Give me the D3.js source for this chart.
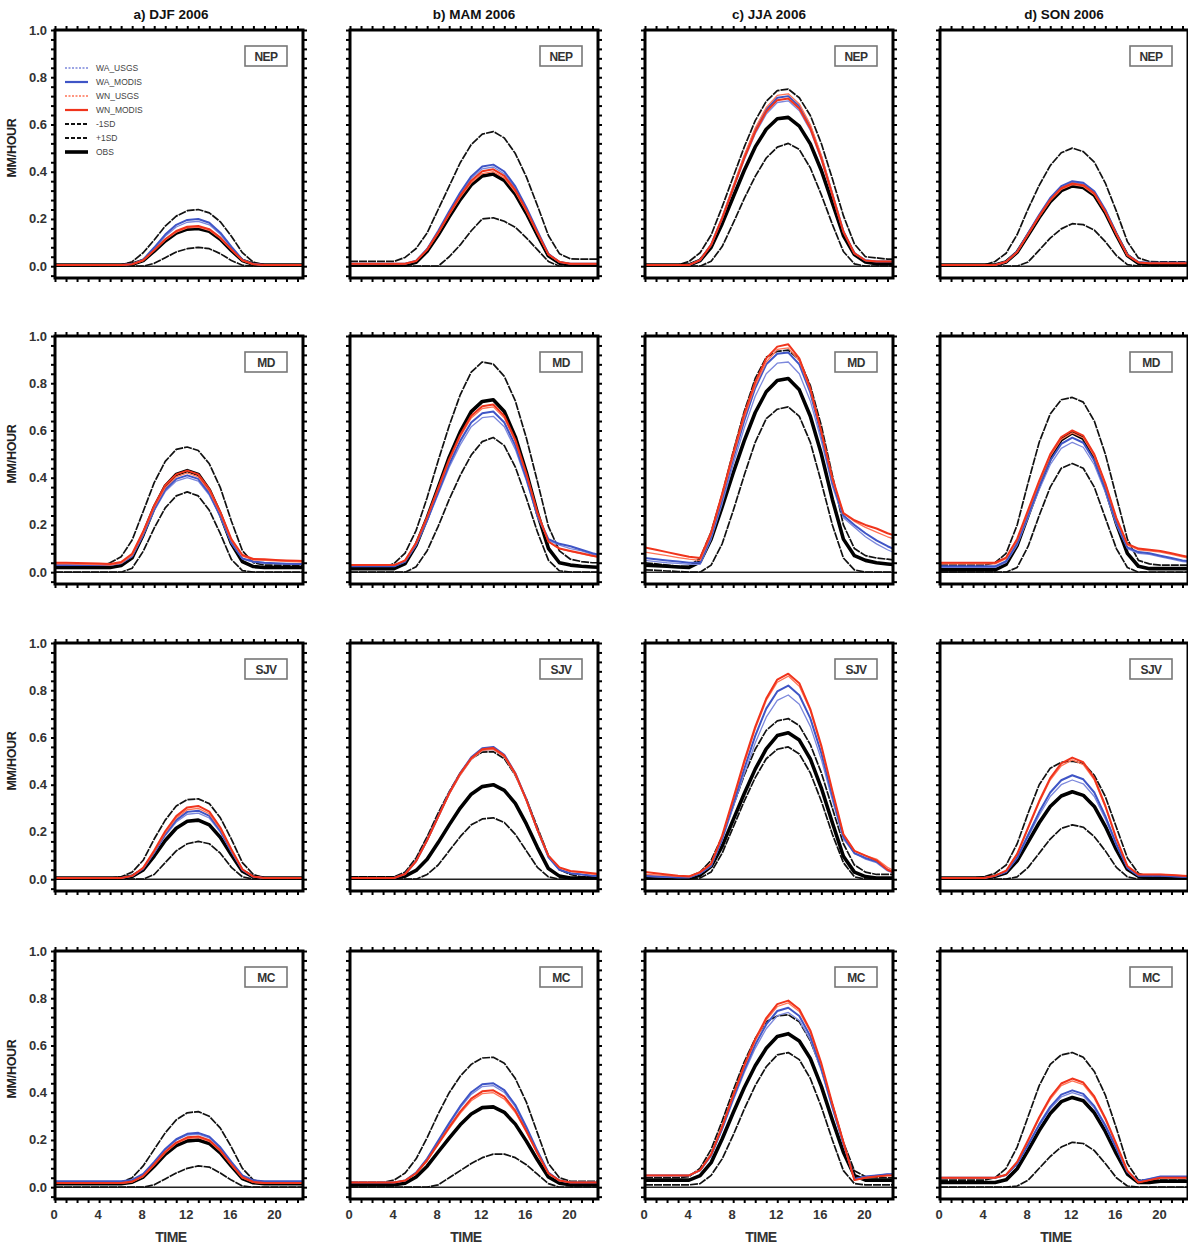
<!DOCTYPE html>
<html><head><meta charset="utf-8">
<script src="https://cdn.jsdelivr.net/npm/d3@7"></script>
<style>body{margin:0;background:#fff;} svg{display:block;font-family:"Liberation Sans",Arial,sans-serif;}</style>
</head><body><svg id="c" width="1188" height="1248"></svg>
<script>
const hours = [0,1,2,3,4,5,6,7,8,9,10,11,12,13,14,15,16,17,18,19,20,21,22,23];
const seasonTitles = ["a) DJF 2006","b) MAM 2006","c) JJA 2006","d) SON 2006"];
const seasonKeys = ["DJF","MAM","JJA","SON"];
const regions = ["NEP","MD","SJV","MC"];
const seriesKeys = ["WA_USGS","WA_MODIS","WN_USGS","WN_MODIS","M1SD","P1SD","OBS"];
const legendLabels = ["WA_USGS","WA_MODIS","WN_USGS","WN_MODIS","-1SD","+1SD","OBS"];
const yTickLabels = [0.0,0.2,0.4,0.6,0.8,1.0];
const xTickLabels = [0,4,8,12,16,20];

// each panel: [WA_USGS, WA_MODIS, WN_USGS, WN_MODIS, -1SD, +1SD, OBS]
const NEP_DJF = [
 [.005,.005,.005,.005,.005,.005,.005,.009,.027,.075,.127,.166,.186,.19,.175,.135,.079,.027,.009,.005,.005,.005,.005,.005],
 [.005,.005,.005,.005,.005,.005,.005,.009,.028,.079,.134,.175,.196,.2,.184,.142,.083,.028,.009,.005,.005,.005,.005,.005],
 [.005,.005,.005,.005,.005,.005,.005,.008,.024,.066,.111,.144,.162,.165,.152,.117,.069,.024,.008,.005,.005,.005,.005,.005],
 [.005,.005,.005,.005,.005,.005,.005,.008,.025,.068,.114,.149,.167,.17,.157,.121,.071,.025,.008,.005,.005,.005,.005,.005],
 [0,0,0,0,0,0,0,0,0,.012,.036,.06,.074,.08,.074,.053,.024,.004,0,0,0,0,0,0],
 [.005,.005,.005,.005,.005,.005,.005,.019,.057,.111,.17,.212,.235,.24,.226,.188,.127,.057,.017,.005,.005,.005,.005,.005],
 [.005,.005,.005,.005,.005,.005,.005,.008,.024,.064,.107,.14,.157,.16,.148,.114,.067,.024,.008,.005,.005,.005,.005,.005]
];
const NEP_MAM = [
 [.01,.01,.01,.01,.01,.01,.022,.072,.145,.227,.305,.371,.412,.42,.391,.33,.244,.145,.051,.018,.01,.01,.01,.01],
 [.01,.01,.01,.01,.01,.01,.023,.073,.149,.233,.312,.38,.422,.43,.401,.338,.249,.149,.052,.018,.01,.01,.01,.01],
 [.01,.01,.01,.01,.01,.01,.022,.069,.139,.217,.291,.353,.392,.40,.373,.314,.232,.139,.049,.018,.01,.01,.01,.01],
 [.01,.01,.01,.01,.01,.01,.022,.07,.142,.222,.298,.362,.402,.41,.382,.322,.238,.142,.05,.018,.01,.01,.01,.01],
 [0,0,0,0,0,0,0,0,0,.04,.09,.15,.20,.205,.19,.165,.12,.07,.02,0,0,0,0,0],
 [.02,.02,.02,.02,.02,.037,.075,.141,.24,.339,.438,.515,.559,.57,.543,.477,.378,.257,.13,.053,.031,.03,.03,.03],
 [.005,.005,.005,.005,.005,.005,.017,.063,.132,.209,.282,.344,.382,.39,.363,.305,.224,.132,.044,.013,.005,.005,.005,.005]
];
const NEP_JJA = [
 [.005,.005,.005,.005,.005,.026,.088,.2,.325,.45,.561,.644,.693,.70,.658,.575,.45,.297,.144,.054,.024,.02,.02,.02],
 [.005,.005,.005,.005,.005,.026,.091,.205,.334,.463,.577,.663,.713,.72,.677,.591,.463,.305,.148,.055,.025,.02,.02,.02],
 [.005,.005,.005,.005,.005,.027,.092,.208,.339,.469,.585,.672,.723,.73,.687,.60,.469,.31,.15,.056,.025,.02,.02,.02],
 [.005,.005,.005,.005,.005,.026,.09,.202,.329,.456,.569,.654,.703,.71,.668,.583,.456,.301,.146,.054,.024,.02,.02,.02],
 [0,0,0,0,0,0,.021,.083,.182,.286,.38,.458,.504,.52,.494,.416,.302,.177,.062,.01,0,0,0,0],
 [.005,.005,.005,.005,.02,.057,.132,.251,.378,.504,.616,.698,.743,.75,.713,.638,.519,.37,.214,.094,.04,.035,.03,.03],
 [.005,.005,.005,.005,.005,.024,.08,.18,.293,.405,.505,.58,.624,.63,.593,.518,.405,.268,.13,.049,.018,.01,.01,.01]
];
const NEP_SON = [
 [.005,.005,.005,.005,.005,.005,.019,.061,.138,.215,.285,.334,.355,.348,.313,.236,.138,.047,.017,.015,.015,.015,.015,.015],
 [.005,.005,.005,.005,.005,.005,.019,.062,.14,.218,.289,.339,.36,.353,.317,.239,.14,.048,.017,.015,.015,.015,.015,.015],
 [.005,.005,.005,.005,.005,.005,.018,.06,.134,.209,.277,.325,.345,.338,.304,.229,.134,.046,.016,.012,.012,.012,.012,.012],
 [.005,.005,.005,.005,.005,.005,.019,.06,.136,.212,.281,.33,.35,.343,.309,.232,.136,.046,.016,.012,.012,.012,.012,.012],
 [0,0,0,0,0,0,0,0,.018,.068,.119,.158,.18,.176,.153,.104,.045,.007,0,0,0,0,0,0],
 [.005,.005,.005,.005,.005,.02,.055,.134,.243,.342,.426,.48,.50,.485,.441,.352,.233,.104,.035,.02,.018,.018,.018,.018],
 [.005,.005,.005,.005,.005,.005,.018,.059,.132,.206,.273,.32,.34,.333,.30,.226,.132,.045,.012,.008,.008,.008,.008,.008]
];
const MD_DJF = [
 [.03,.03,.03,.03,.03,.03,.037,.067,.156,.26,.341,.386,.40,.386,.326,.233,.122,.056,.043,.038,.036,.035,.034,.033],
 [.03,.03,.03,.03,.03,.03,.038,.068,.159,.266,.349,.395,.41,.395,.334,.239,.125,.058,.045,.04,.038,.036,.035,.035],
 [.035,.035,.034,.033,.032,.03,.038,.072,.165,.274,.358,.404,.42,.404,.343,.248,.135,.068,.052,.05,.048,.046,.044,.042],
 [.04,.04,.039,.038,.037,.035,.043,.078,.172,.282,.368,.414,.43,.414,.352,.255,.14,.073,.056,.055,.052,.05,.048,.046],
 [0,0,0,0,0,0,0,.017,.088,.187,.272,.323,.34,.323,.262,.163,.054,.007,0,0,0,0,0,0],
 [.025,.025,.025,.025,.025,.04,.065,.136,.257,.379,.469,.52,.53,.515,.459,.358,.217,.091,.04,.03,.03,.03,.03,.03],
 [.02,.02,.02,.02,.02,.02,.028,.061,.159,.274,.364,.414,.43,.414,.348,.245,.122,.045,.024,.02,.02,.02,.02,.02]
];
const MD_MAM = [
 [.025,.025,.025,.025,.025,.044,.114,.216,.33,.444,.539,.616,.654,.66,.616,.52,.387,.235,.135,.115,.10,.09,.075,.065],
 [.025,.025,.025,.025,.025,.045,.117,.222,.339,.457,.556,.634,.673,.68,.634,.536,.398,.241,.14,.12,.11,.095,.08,.07],
 [.03,.03,.03,.03,.03,.049,.123,.231,.351,.472,.573,.653,.693,.70,.653,.553,.413,.251,.128,.10,.088,.078,.068,.06],
 [.03,.03,.03,.03,.03,.05,.125,.234,.356,.479,.581,.662,.703,.71,.662,.56,.418,.254,.13,.10,.09,.08,.07,.06],
 [0,0,0,0,0,0,.023,.091,.194,.308,.41,.496,.553,.57,.536,.445,.314,.171,.051,.006,0,0,0,0],
 [.02,.02,.02,.02,.037,.081,.177,.316,.472,.62,.751,.847,.89,.881,.829,.725,.568,.385,.194,.09,.055,.045,.04,.04],
 [.015,.015,.015,.015,.015,.036,.115,.23,.358,.487,.594,.68,.723,.73,.68,.573,.423,.251,.101,.04,.03,.025,.022,.02]
];
const MD_JJA = [
 [.05,.045,.04,.037,.033,.033,.14,.29,.455,.61,.745,.84,.885,.89,.84,.725,.555,.365,.23,.19,.15,.12,.095,.075],
 [.06,.055,.05,.045,.04,.04,.15,.31,.48,.64,.78,.88,.925,.93,.88,.76,.58,.38,.24,.20,.165,.135,.11,.09],
 [.085,.078,.07,.062,.055,.05,.16,.32,.49,.655,.79,.89,.943,.95,.895,.77,.59,.39,.25,.215,.19,.17,.15,.135],
 [.105,.095,.085,.075,.065,.06,.168,.332,.505,.669,.805,.905,.955,.965,.905,.778,.596,.40,.25,.22,.20,.185,.165,.15],
 [.01,.008,.005,.003,0,0,.03,.12,.26,.41,.55,.65,.69,.70,.66,.55,.38,.20,.06,.01,0,0,0,0],
 [.04,.035,.03,.025,.025,.06,.17,.33,.51,.68,.82,.91,.935,.94,.90,.79,.62,.41,.20,.10,.07,.06,.055,.05],
 [.03,.028,.025,.022,.02,.044,.14,.276,.42,.556,.676,.764,.812,.82,.772,.66,.50,.308,.14,.07,.05,.04,.035,.03]
];
const MD_SON = [
 [.02,.02,.02,.02,.02,.02,.041,.115,.232,.349,.455,.524,.55,.529,.455,.338,.20,.10,.08,.075,.065,.055,.045,.04],
 [.025,.025,.025,.025,.025,.025,.047,.123,.243,.363,.472,.543,.57,.548,.472,.352,.21,.105,.085,.08,.07,.06,.05,.045],
 [.035,.035,.035,.035,.035,.035,.057,.135,.257,.379,.49,.562,.59,.568,.49,.368,.225,.115,.095,.09,.085,.075,.065,.055],
 [.04,.04,.04,.04,.04,.04,.062,.141,.264,.387,.499,.572,.60,.578,.499,.376,.23,.12,.10,.095,.09,.08,.07,.06],
 [0,0,0,0,0,0,0,.02,.11,.24,.36,.44,.46,.44,.36,.23,.10,.02,0,0,0,0,0,0],
 [.03,.03,.03,.03,.03,.04,.08,.20,.38,.55,.67,.73,.74,.72,.64,.50,.32,.14,.05,.035,.03,.03,.03,.03],
 [.01,.01,.01,.01,.01,.01,.033,.114,.242,.368,.482,.561,.59,.567,.485,.358,.207,.08,.025,.015,.015,.015,.015,.015]
];
const SJV_DJF = [
 [.005,.005,.005,.005,.005,.005,.005,.013,.044,.11,.184,.242,.275,.28,.259,.198,.115,.038,.01,.005,.005,.005,.005,.005],
 [.005,.005,.005,.005,.005,.005,.005,.014,.045,.114,.19,.25,.285,.29,.268,.205,.119,.04,.011,.005,.005,.005,.005,.005],
 [.005,.005,.005,.005,.005,.005,.005,.014,.047,.117,.196,.259,.294,.30,.277,.212,.123,.041,.011,.005,.005,.005,.005,.005],
 [.005,.005,.005,.005,.005,.005,.005,.014,.048,.121,.203,.267,.304,.31,.286,.219,.127,.042,.011,.005,.005,.005,.005,.005],
 [0,0,0,0,0,0,0,0,0,.02,.07,.12,.15,.16,.15,.11,.05,.01,0,0,0,0,0,0],
 [.005,.005,.005,.005,.005,.005,.01,.03,.08,.17,.25,.31,.337,.34,.32,.26,.17,.07,.02,.005,.005,.005,.005,.005],
 [.005,.005,.005,.005,.005,.005,.005,.012,.039,.098,.164,.216,.245,.25,.23,.177,.103,.034,.01,.005,.005,.005,.005,.005]
];
const SJV_MAM = [
 [.005,.005,.005,.005,.005,.021,.076,.163,.261,.36,.441,.507,.545,.55,.518,.441,.332,.206,.093,.04,.025,.02,.015,.012],
 [.005,.005,.005,.005,.005,.022,.077,.166,.266,.366,.449,.516,.554,.56,.527,.449,.338,.21,.094,.04,.025,.02,.015,.012],
 [.005,.005,.005,.005,.005,.021,.076,.163,.261,.36,.441,.507,.545,.55,.518,.441,.332,.206,.098,.048,.033,.028,.022,.018],
 [.005,.005,.005,.005,.005,.022,.077,.166,.265,.364,.447,.512,.55,.555,.523,.447,.336,.21,.10,.05,.035,.03,.025,.02],
 [0,0,0,0,0,0,0,.02,.06,.12,.18,.23,.255,.26,.24,.19,.12,.05,.01,0,0,0,0,0],
 [.01,.01,.01,.01,.01,.03,.09,.18,.28,.37,.45,.51,.538,.54,.51,.44,.34,.22,.10,.04,.02,.01,.01,.01],
 [.005,.005,.005,.005,.005,.013,.037,.084,.155,.23,.301,.36,.392,.40,.376,.321,.234,.135,.045,.013,.005,.005,.005,.005]
];
const SJV_JJA = [
 [.012,.01,.008,.007,.007,.023,.055,.164,.304,.445,.577,.686,.757,.78,.741,.647,.507,.335,.17,.11,.085,.07,.035,.018],
 [.015,.012,.01,.008,.008,.025,.057,.172,.32,.467,.607,.722,.795,.82,.779,.681,.533,.353,.18,.11,.09,.075,.04,.02],
 [.02,.018,.015,.012,.01,.028,.063,.18,.335,.49,.636,.757,.834,.86,.817,.714,.559,.37,.19,.12,.10,.085,.05,.025],
 [.03,.025,.02,.015,.012,.03,.065,.185,.34,.50,.645,.765,.845,.87,.83,.72,.565,.375,.19,.12,.10,.08,.04,.02],
 [0,0,0,0,0,.005,.03,.11,.22,.33,.43,.51,.55,.56,.53,.45,.33,.19,.07,.01,0,0,0,0],
 [.005,.005,.005,.005,.01,.03,.08,.18,.31,.44,.55,.63,.67,.68,.65,.57,.45,.30,.15,.06,.03,.02,.02,.02],
 [.005,.005,.005,.005,.005,.017,.054,.14,.251,.362,.466,.552,.608,.62,.589,.509,.386,.239,.097,.03,.011,.005,.005,.005]
];
const SJV_SON = [
 [.005,.005,.005,.005,.005,.013,.03,.088,.179,.271,.35,.40,.42,.404,.35,.255,.143,.047,.015,.015,.015,.012,.01,.01],
 [.005,.005,.005,.005,.005,.014,.031,.092,.188,.284,.367,.419,.44,.423,.367,.267,.149,.049,.015,.015,.015,.012,.01,.01],
 [.005,.005,.005,.005,.005,.015,.035,.105,.215,.325,.42,.48,.505,.485,.42,.305,.17,.055,.02,.02,.02,.018,.015,.012],
 [.005,.005,.005,.005,.005,.015,.036,.107,.219,.331,.428,.49,.515,.495,.428,.311,.173,.056,.02,.02,.02,.018,.015,.012],
 [0,0,0,0,0,0,0,.01,.05,.11,.17,.215,.23,.22,.18,.12,.05,.01,0,0,0,0,0,0],
 [.005,.005,.005,.005,.01,.025,.06,.15,.28,.40,.47,.495,.50,.49,.44,.35,.22,.09,.025,.01,.01,.01,.01,.01],
 [.005,.005,.005,.005,.005,.012,.027,.078,.158,.239,.308,.352,.37,.355,.308,.224,.125,.042,.012,.005,.005,.005,.005,.005]
];
const MC_DJF = [
 [.022,.022,.022,.022,.022,.022,.022,.028,.052,.103,.158,.199,.221,.225,.209,.164,.103,.046,.026,.022,.022,.022,.022,.022],
 [.025,.025,.025,.025,.025,.025,.025,.031,.056,.107,.162,.203,.226,.23,.214,.169,.107,.05,.029,.025,.025,.025,.025,.025],
 [.016,.016,.016,.016,.016,.016,.016,.022,.045,.094,.146,.185,.206,.21,.194,.152,.094,.039,.02,.016,.016,.016,.016,.016],
 [.018,.018,.018,.018,.018,.018,.018,.024,.048,.097,.15,.189,.211,.215,.199,.156,.097,.042,.022,.018,.018,.018,.018,.018],
 [0,0,0,0,0,0,0,0,0,.01,.035,.06,.08,.09,.085,.06,.03,.005,0,0,0,0,0,0],
 [.02,.02,.02,.02,.02,.02,.02,.04,.09,.16,.23,.285,.315,.32,.30,.25,.17,.08,.03,.02,.02,.02,.02,.02],
 [.015,.015,.015,.015,.015,.015,.015,.021,.043,.089,.139,.176,.196,.20,.185,.145,.089,.037,.019,.015,.015,.015,.015,.015]
];
const MC_MAM = [
 [.02,.02,.02,.02,.02,.028,.061,.118,.192,.266,.336,.393,.426,.43,.401,.34,.25,.151,.061,.028,.02,.02,.02,.02],
 [.02,.02,.02,.02,.02,.028,.062,.121,.196,.272,.343,.402,.436,.44,.411,.348,.255,.154,.062,.028,.02,.02,.02,.02],
 [.02,.02,.02,.02,.02,.028,.058,.111,.18,.248,.313,.366,.396,.40,.373,.316,.233,.142,.058,.028,.02,.02,.02,.02],
 [.02,.02,.02,.02,.02,.028,.059,.114,.184,.254,.32,.375,.406,.41,.383,.324,.238,.145,.059,.028,.02,.02,.02,.02],
 [0,0,0,0,0,0,0,0,.01,.04,.07,.10,.125,.14,.14,.125,.095,.055,.015,0,0,0,0,0],
 [.02,.02,.02,.02,.03,.06,.12,.21,.31,.40,.47,.52,.547,.55,.525,.46,.36,.23,.10,.04,.025,.025,.025,.025],
 [.01,.01,.01,.01,.01,.017,.043,.089,.149,.208,.264,.31,.337,.34,.317,.267,.195,.116,.043,.017,.01,.01,.01,.01]
];
const MC_JJA = [
 [.05,.05,.05,.05,.05,.071,.133,.243,.367,.485,.588,.671,.726,.74,.706,.623,.492,.333,.181,.035,.045,.05,.055,.055],
 [.05,.05,.05,.05,.05,.071,.135,.249,.377,.497,.604,.689,.746,.76,.725,.639,.504,.341,.185,.035,.045,.05,.055,.055],
 [.05,.05,.05,.05,.05,.072,.138,.254,.386,.51,.619,.707,.765,.78,.744,.656,.517,.349,.189,.03,.04,.045,.05,.05],
 [.05,.05,.05,.05,.05,.072,.139,.257,.39,.516,.627,.716,.775,.79,.753,.664,.524,.353,.191,.03,.04,.045,.05,.05],
 [.01,.01,.01,.01,.01,.015,.05,.12,.22,.33,.43,.51,.56,.57,.54,.46,.34,.20,.07,.015,.01,.01,.01,.01],
 [.04,.04,.04,.04,.045,.08,.16,.28,.41,.53,.63,.70,.725,.73,.70,.62,.50,.35,.19,.07,.045,.04,.04,.04],
 [.03,.03,.03,.03,.03,.049,.104,.204,.315,.421,.514,.588,.638,.65,.619,.545,.427,.284,.148,.049,.03,.03,.03,.03]
];
const MC_SON = [
 [.04,.04,.04,.04,.04,.04,.051,.098,.177,.26,.332,.382,.40,.386,.335,.256,.162,.064,.025,.035,.045,.045,.045,.045],
 [.04,.04,.04,.04,.04,.04,.051,.099,.181,.266,.34,.392,.41,.395,.343,.262,.166,.065,.025,.035,.045,.045,.045,.045],
 [.04,.04,.04,.04,.04,.04,.052,.106,.196,.29,.372,.43,.45,.434,.376,.286,.179,.068,.02,.03,.04,.04,.04,.04],
 [.04,.04,.04,.04,.04,.04,.053,.107,.20,.296,.38,.439,.46,.443,.384,.292,.183,.07,.02,.03,.04,.04,.04,.04],
 [0,0,0,0,0,0,0,.005,.03,.08,.13,.17,.19,.185,.155,.10,.04,.005,0,0,0,0,0,0],
 [.03,.03,.03,.03,.03,.04,.08,.17,.30,.43,.52,.56,.57,.55,.49,.39,.25,.10,.03,.03,.03,.03,.03,.03],
 [.02,.02,.02,.02,.02,.02,.031,.078,.157,.24,.312,.362,.38,.366,.315,.236,.142,.056,.02,.02,.025,.025,.025,.025]
];

const panels = {
  NEP:{DJF:NEP_DJF, MAM:NEP_MAM, JJA:NEP_JJA, SON:NEP_SON},
  MD:{DJF:MD_DJF, MAM:MD_MAM, JJA:MD_JJA, SON:MD_SON},
  SJV:{DJF:SJV_DJF, MAM:SJV_MAM, JJA:SJV_JJA, SON:SJV_SON},
  MC:{DJF:MC_DJF, MAM:MC_MAM, JJA:MC_JJA, SON:MC_SON}
};

const style = {
  WA_USGS:{color:"#7c88dc", width:1.3, dash:null},
  WA_MODIS:{color:"#3f55c6", width:2, dash:null},
  WN_USGS:{color:"#ff7355", width:1.3, dash:null},
  WN_MODIS:{color:"#f0341c", width:2, dash:null},
  M1SD:{color:"#111", width:1.7, dash:"8,1"},
  P1SD:{color:"#111", width:1.7, dash:"8,1"},
  OBS:{color:"#000", width:3.6, dash:null}
};
const drawOrder = ["P1SD","M1SD","OBS","WA_USGS","WA_MODIS","WN_USGS","WN_MODIS"];

const colX = [55,350,645,940], rowY = [30,336,643,951];
const W = 248, H = 248;
const x = d3.scaleLinear().domain([0,22.5]).range([0,W]);
const y = d3.scaleLinear().domain([-0.05,1.0]).range([H,0]);
const minorY = d3.range(-0.04, 1.0001, 0.04);
const minorX = hours.filter(h => h <= 22);

const svg = d3.select("#c");
const defs = svg.append("defs");
defs.append("clipPath").attr("id","clip").append("rect").attr("x",0).attr("y",0).attr("width",W).attr("height",H);

const line = d3.line().x((d,i)=>x(hours[i])).y(d=>y(d));

regions.forEach((reg, r) => {
  seasonKeys.forEach((sk, c) => {
    const g = svg.append("g").attr("transform",`translate(${colX[c]},${rowY[r]})`);
    const data = panels[reg][sk];
    const plot = g.append("g").attr("clip-path","url(#clip)");
    plot.append("line").attr("x1",0).attr("x2",W).attr("y1",y(0)).attr("y2",y(0))
      .attr("stroke","#222").attr("stroke-width",1.6);
    drawOrder.forEach(k => {
      const s = style[k];
      plot.append("path").datum(data[seriesKeys.indexOf(k)])
        .attr("d", line).attr("fill","none")
        .attr("stroke", s.color).attr("stroke-width", s.width)
        .attr("stroke-linejoin","round")
        .attr("stroke-dasharray", s.dash);
    });
    const tk = (sel) => sel.call(a => a.select(".domain").remove())
      .call(a => a.selectAll("line").attr("stroke","#000").attr("stroke-width",2));
    g.append("g").call(d3.axisTop(x).tickValues(minorX).tickSize(4).tickFormat("")).call(tk);
    g.append("g").attr("transform",`translate(0,${H})`).call(d3.axisBottom(x).tickValues(minorX).tickSize(4).tickFormat("")).call(tk);
    g.append("g").call(d3.axisLeft(y).tickValues(minorY).tickSize(4).tickFormat("")).call(tk);
    g.append("g").attr("transform",`translate(${W},0)`).call(d3.axisRight(y).tickValues(minorY).tickSize(4).tickFormat("")).call(tk);
    g.append("rect").attr("x",0).attr("y",0).attr("width",W).attr("height",H)
      .attr("fill","none").attr("stroke","#000").attr("stroke-width",3);
    const bx = W - 16 - 42, by = 16;
    g.append("rect").attr("x",bx).attr("y",by).attr("width",42).attr("height",20)
      .attr("fill","#fff").attr("stroke","#777").attr("stroke-width",1.6);
    g.append("text").attr("x",bx+21).attr("y",by+14.5).attr("text-anchor","middle")
      .attr("font-size",12).attr("font-weight","bold").attr("fill","#333")
      .attr("letter-spacing","-0.5").text(reg);

    if (c === 0) {
      g.selectAll("text.yl").data(yTickLabels).enter().append("text")
        .attr("x",-8).attr("y",d=>y(d)+4.5).attr("text-anchor","end")
        .attr("font-size",13).attr("font-weight","bold").attr("fill","#333")
        .text(d=>d3.format(".1f")(d));
      g.append("text").attr("transform",`translate(-39,${H/2-6}) rotate(-90)`)
        .attr("text-anchor","middle").attr("font-size",12.5).attr("font-weight","bold")
        .attr("fill","#222").attr("letter-spacing","-0.3").text("MM/HOUR");
    }
    if (r === 0) {
      g.append("text").attr("x",W/2 - (c===0?8:0)).attr("y",-11).attr("text-anchor","middle")
        .attr("font-size",13.5).attr("font-weight","bold").attr("fill","#111")
        .text(seasonTitles[c]);
    }
    if (r === 3) {
      g.selectAll("text.xl").data(xTickLabels).enter().append("text")
        .attr("x",d=>x(d)-1).attr("y",H+20).attr("text-anchor","middle")
        .attr("font-size",13).attr("font-weight","bold").attr("fill","#333")
        .text(d=>d);
      g.append("text").attr("x",W/2-8).attr("y",H+43).attr("text-anchor","middle")
        .attr("font-size",14).attr("font-weight","bold").attr("fill","#333")
        .attr("letter-spacing","-0.5").text("TIME");
    }
    if (r === 0 && c === 0) {
      const lg = g.append("g").attr("transform","translate(10,38)");
      legendLabels.forEach((lab, i) => {
        const s = style[seriesKeys[i]];
        const isSD = seriesKeys[i] === "M1SD" || seriesKeys[i] === "P1SD";
        const isUSGS = seriesKeys[i].endsWith("USGS");
        lg.append("line").attr("x1",0).attr("x2",23).attr("y1",i*14).attr("y2",i*14)
          .attr("stroke",s.color).attr("stroke-width", isSD ? 2 : (seriesKeys[i]==="OBS" ? 3.6 : (isUSGS ? 1.6 : 2.2)))
          .attr("stroke-dasharray", isSD ? "4,2" : (isUSGS ? "2,1.5" : null));
        lg.append("text").attr("x",31).attr("y",i*14+3).attr("font-size",8.5)
          .attr("fill","#444").text(lab);
      });
    }
  });
});
</script></body></html>
